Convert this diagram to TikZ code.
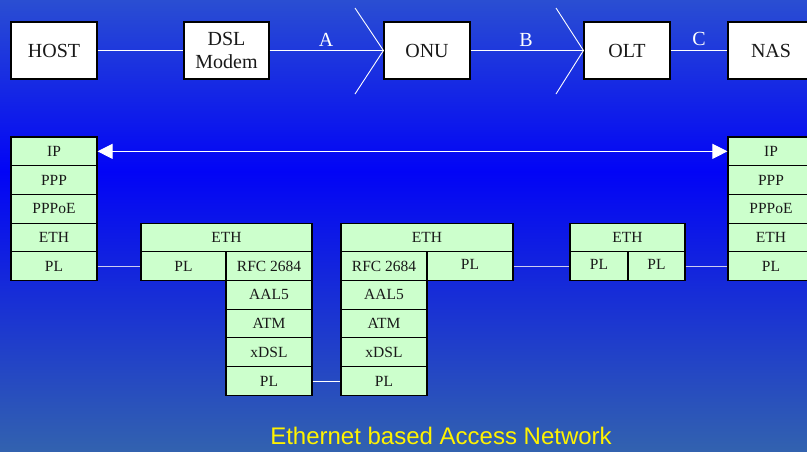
\documentclass[tikz,border=0pt]{standalone}
\usepackage{fontspec}
\setmainfont{Liberation Serif}
\newfontfamily\arialfont{Liberation Sans}
\usetikzlibrary{arrows.meta}
\definecolor{bgtop}{RGB}{42,78,210}
\definecolor{bgmid}{RGB}{2,4,246}
\definecolor{bgbot}{RGB}{50,98,175}
\definecolor{cellgreen}{RGB}{204,255,204}
\definecolor{plline}{RGB}{205,205,240}
\tikzset{
  cell/.style={draw=black, line width=1.1pt, fill=cellgreen, inner sep=0pt,
    font=\fontsize{15.5}{17}\selectfont, text=black!90},
  topbox/.style={draw=black, line width=1.1pt, fill=white, inner sep=0pt,
    font=\fontsize{20}{23}\selectfont, align=center, text=black!90},
  link/.style={draw=white, line width=0.9pt},
  pllink/.style={draw=plline, line width=1.3pt},
  seglabel/.style={text=white, font=\fontsize{20}{23}\selectfont, inner sep=0pt}
}
\newcommand\cellbox[6]{\node[cell, minimum width={(#4-#2)*1pt}, minimum height={(#5-#3)*1pt}] (#1) at ({(#2+#4)/2},{(#3+#5)/2}) {#6};}
\newcommand\topbox[6]{\node[topbox, minimum width={(#4-#2)*1pt}, minimum height={(#5-#3)*1pt}] (#1) at ({(#2+#4)/2},{(#3+#5)/2}) {#6};}
\begin{document}
\begin{tikzpicture}[x=1pt,y=-1pt]
\useasboundingbox (0,0) rectangle (807,451);
\clip (0,0) rectangle (807,451);
\shade[top color=bgtop, bottom color=bgmid] (0,0) rectangle (807,172);
\shade[top color=bgmid, bottom color=bgbot] (0,171.5) rectangle (807,451);

% top row
\topbox{host}{11}{22}{97}{79}{HOST}
\topbox{dsl}{184}{22}{269}{79}{DSL\\Modem}
\topbox{onu}{384}{22}{470}{79}{ONU}
\topbox{olt}{584}{22}{670}{79}{OLT}
\topbox{nas}{728}{22}{814}{79}{NAS}
\draw[link] (host) -- (dsl);
\draw[link] (dsl) -- (onu);
\draw[link] (onu) -- (olt);
\draw[link] (olt) -- (nas);
\coordinate (ca1) at (355,8);
\coordinate (ca2) at (355,94);
\coordinate (cb1) at (556,8);
\coordinate (cb2) at (556,94);
\draw[link] (ca1) -- (onu.west) -- (ca2);
\draw[link] (cb1) -- (olt.west) -- (cb2);
\node[seglabel] (la) at (326,40) {A};
\node[seglabel] (lb) at (526,40) {B};
\node[seglabel] (lc) at (699,39) {C};

% left stack (host)
\cellbox{lip}{11}{137}{97}{165.7}{IP}
\cellbox{lppp}{11}{165.7}{97}{194.4}{PPP}
\cellbox{lpppoe}{11}{194.4}{97}{223.1}{PPPoE}
\cellbox{leth}{11}{223.1}{97}{251.8}{ETH}
\cellbox{lpl}{11}{251.8}{97}{280.5}{PL}

% modem stack
\cellbox{meth}{141}{223.1}{312}{251.8}{ETH}
\cellbox{mpl}{141}{251.8}{226}{280.5}{PL}
\cellbox{mrfc}{226}{251.8}{312}{280.5}{RFC 2684}
\cellbox{maal}{226}{280.5}{312}{309.2}{AAL5}
\cellbox{matm}{226}{309.2}{312}{337.9}{ATM}
\cellbox{mxdsl}{226}{337.9}{312}{366.6}{xDSL}
\cellbox{mpl2}{226}{366.6}{312}{395.3}{PL}

% onu stack
\cellbox{oeth}{341}{223.1}{513}{251.8}{ETH}
\cellbox{orfc}{341}{251.8}{427}{280.5}{RFC 2684}
\cellbox{opl}{427}{251.8}{513}{280.5}{\raisebox{3pt}{PL}}
\cellbox{oaal}{341}{280.5}{427}{309.2}{AAL5}
\cellbox{oatm}{341}{309.2}{427}{337.9}{ATM}
\cellbox{oxdsl}{341}{337.9}{427}{366.6}{xDSL}
\cellbox{opl2}{341}{366.6}{427}{395.3}{PL}

% olt stack
\cellbox{teth}{570}{223.1}{685}{251.8}{ETH}
\cellbox{tpl1}{570}{251.8}{628}{280.5}{\raisebox{3pt}{PL}}
\cellbox{tpl2}{628}{251.8}{685}{280.5}{\raisebox{3pt}{PL}}

% right stack (nas)
\cellbox{rip}{728}{137}{814}{165.7}{IP}
\cellbox{rppp}{728}{165.7}{814}{194.4}{PPP}
\cellbox{rpppoe}{728}{194.4}{814}{223.1}{PPPoE}
\cellbox{reth}{728}{223.1}{814}{251.8}{ETH}
\cellbox{rpl}{728}{251.8}{814}{280.5}{PL}

% connectors
\draw[white, line width=1pt, {Triangle[length=15pt,width=15pt]}-{Triangle[length=15pt,width=15pt]}] (lip.east) -- (rip.west);
\draw[pllink] (lpl) -- (mpl);
\draw[link] (mpl2) -- (opl2);
\draw[pllink] (opl) -- (tpl1);
\draw[pllink] (tpl2) -- (rpl);

\node[text=yellow, font=\arialfont\fontsize{24}{28}\selectfont, inner sep=0pt] (title) at (441,436) {Ethernet based Access Network};
\end{tikzpicture}
\end{document}
